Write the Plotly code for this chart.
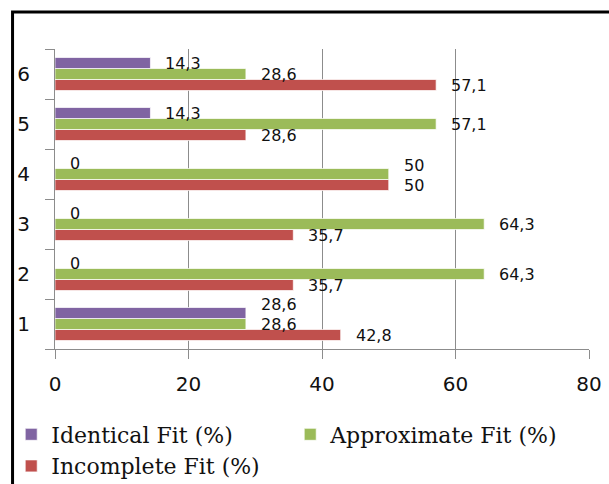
import plotly.graph_objects as go

# Survey groups and the share of each fit type (%)
groups = ["1", "2", "3", "4", "5", "6"]
identical_fit = [28.6, 0, 0, 0, 14.3, 14.3]
approximate_fit = [28.6, 64.3, 64.3, 50, 57.1, 28.6]
incomplete_fit = [42.8, 35.7, 35.7, 50, 28.6, 57.1]

series_names = ["Identical Fit (%)", "Approximate Fit (%)", "Incomplete Fit (%)"]
x_ticks = [0, 20, 40, 60, 80]

PURPLE = "#8064A2"
GREEN = "#9BBB59"
RED = "#C0504D"
SANS = "DejaVu Sans, Verdana, sans-serif"
SERIF = "DejaVu Serif, Times New Roman, serif"


def label(v):
    """Format a value with a decimal comma, e.g. 14.3 -> '14,3'."""
    return f"{v:g}".replace(".", ",")


fig = go.Figure()

# Added bottom-to-top within each group so Identical sits on top
series = [
    (series_names[2], incomplete_fit, RED),
    (series_names[1], approximate_fit, GREEN),
    (series_names[0], identical_fit, PURPLE),
]
for name, vals, color in series:
    fig.add_trace(go.Bar(
        name=name,
        y=groups,
        x=vals,
        orientation="h",
        marker=dict(color=color, line=dict(color="rgba(255,255,255,0.7)", width=1)),
        hoverinfo="x+name",
    ))

# Value labels just past each bar end. Each starts level with its bar slot;
# a label whose neighbour below ends at nearly the same x is lifted clear of it.
slot_shift = [-11, 0, 11]      # px, bottom to top within a group
min_gap = 20                   # px between stacked labels
near = 6                       # x units counted as "nearly the same"
annotations = []
for idx in range(len(groups)):
    prev_v, prev_shift = None, None
    for k, (name, vals, _) in enumerate(series):
        v = vals[idx]
        shift = slot_shift[k]
        if prev_v is not None and abs(v - prev_v) < near:
            shift = max(shift, prev_shift + min_gap)
        annotations.append(dict(
            x=v, y=idx, xref="x", yref="y",
            text=label(v), showarrow=False,
            xanchor="left", yanchor="middle",
            xshift=13, yshift=shift,
            font=dict(family=SANS, size=16, color="#111111"),
        ))
        prev_v, prev_shift = v, shift

fig.update_layout(
    width=609,
    height=484,
    margin=dict(l=55, r=20, t=49, b=135, autoexpand=False),
    paper_bgcolor="white",
    plot_bgcolor="white",
    barmode="group",
    bargap=0.34,
    bargroupgap=0,
    annotations=annotations,
    showlegend=True,
    legend=dict(
        orientation="h",
        traceorder="reversed",
        x=-0.082, xanchor="left",
        y=-0.215, yanchor="top",
        entrywidth=234,
        itemwidth=30,
        tracegroupgap=0,
        font=dict(family=SERIF, size=22, color="#111111"),
        bgcolor="rgba(0,0,0,0)",
    ),
    shapes=[
        # Frame drawn around the chart (left and top edges)
        dict(
            type="path", xref="paper", yref="paper",
            path="M -0.0795,-0.6 L -0.0795,1.1233 L 1.1,1.1233",
            line=dict(color="black", width=3),
        )
    ],
)

fig.update_xaxes(
    range=[0, 80],
    tickvals=x_ticks,
    ticktext=[str(t) for t in x_ticks],
    showgrid=True,
    gridcolor="#8c8c8c",
    gridwidth=1,
    showline=True,
    linecolor="#8c8c8c",
    linewidth=1,
    ticks="outside",
    ticklen=9,
    tickcolor="#8c8c8c",
    zeroline=False,
    automargin=False,
    tickfont=dict(family=SANS, size=20, color="#111111"),
    ticklabelstandoff=8,
)

fig.update_yaxes(
    type="category",
    categoryorder="array",
    categoryarray=groups,
    range=[-0.5, len(groups) - 0.5],
    tickson="boundaries",
    showgrid=False,
    showline=True,
    linecolor="#8c8c8c",
    linewidth=1,
    ticks="outside",
    ticklen=9,
    tickcolor="#8c8c8c",
    automargin=False,
    tickfont=dict(family=SANS, size=20, color="#111111"),
    ticklabelstandoff=20,
)

fig.write_html("out.html")
